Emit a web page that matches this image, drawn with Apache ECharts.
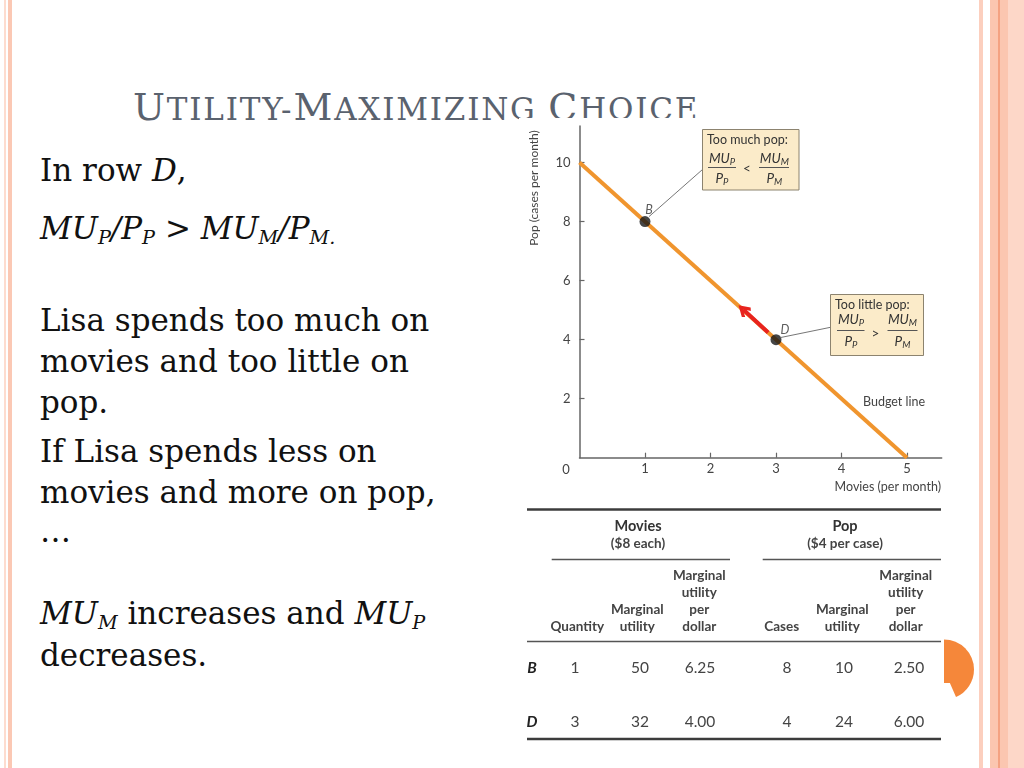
<!DOCTYPE html>
<html><head><meta charset="utf-8">
<script src="https://cdn.jsdelivr.net/npm/echarts@6/dist/echarts.min.js"></script>
<style>
body{margin:0;background:#fff;}
#slide{position:relative;width:1024px;height:768px;overflow:hidden;background:#fff;}
.stripe{position:absolute;top:0;height:768px;}
.title{position:absolute;left:133px;top:88px;font-family:'DejaVu Serif';color:#5A626E;font-size:38px;line-height:38px;white-space:nowrap;letter-spacing:1.8px;}
.title .sc{font-size:31px;}
.ln{position:absolute;left:40px;font-family:'DejaVu Serif';font-size:31px;line-height:31px;height:31px;color:#111;white-space:nowrap;}
.ln sub{font-size:0.62em;vertical-align:-0.28em;line-height:0;}
#cover{position:absolute;left:519px;top:118px;width:426px;height:640px;background:#fff;}
#chart{position:absolute;left:0;top:0;width:1024px;height:768px;}
</style></head>
<body>
<div id="slide">
  <div class="stripe" style="left:4px;width:2px;background:#FDDCCF"></div>
  <div class="stripe" style="left:8px;width:4px;background:#FBC8B4"></div>
  <div class="stripe" style="left:979px;width:4px;background:#FCCFBE"></div>
  <div class="stripe" style="left:990px;width:8px;background:#FBC6B0"></div>
  <div class="stripe" style="left:998px;width:1.5px;background:#F4A282"></div>
  <div class="stripe" style="left:999.5px;width:8px;background:#FBC6B0"></div>
  <div class="stripe" style="left:1007.5px;width:16.5px;background:#FDD7C8"></div>

  <div class="title">U<span class="sc">TILITY-</span>M<span class="sc">AXIMIZING </span>C<span class="sc">HOICE</span></div>

  <div class="ln" style="top:155px">In row <i>D</i>,</div>
  <div class="ln" style="top:213px"><i>MU<sub>P</sub>/P<sub>P</sub>&nbsp;&gt; MU<sub>M</sub>/P<sub>M.</sub></i></div>
  <div class="ln" style="top:305px">Lisa spends too much on</div>
  <div class="ln" style="top:346px">movies and too little on</div>
  <div class="ln" style="top:387px">pop.</div>
  <div class="ln" style="top:436px">If Lisa spends less on</div>
  <div class="ln" style="top:477px">movies and more on pop,</div>
  <div class="ln" style="top:516px">…</div>
  <div class="ln" style="top:598px"><i>MU<sub>M</sub></i> increases and <i>MU<sub>P</sub></i></div>
  <div class="ln" style="top:640px">decreases.</div>

  <div id="cover"></div>
  <div id="chart"></div>
</div>
<script>
// ---- chart data ----
const budgetMovies = [0, 5];
const budgetPop = [10, 0];
const pointNames = ['B', 'D'];
const pointMovies = [1, 3];
const pointPop = [8, 4];
const arrowMovies = [2.88, 2.5];
const arrowPop = [4.24, 5.02];
const xTickValues = [1, 2, 3, 4, 5];
const yTickValues = [2, 4, 6, 8, 10];

// ---- table data ----
const rowLabels = ['B', 'D'];
const moviesQuantity = ['1', '3'];
const moviesMU = ['50', '32'];
const moviesMUPerDollar = ['6.25', '4.00'];
const popCases = ['8', '4'];
const popMU = ['10', '24'];
const popMUPerDollar = ['2.50', '6.00'];
const groupTitles = ['Movies', 'Pop'];
const groupSubtitles = ['($8 each)', '($4 per case)'];
const columnHeaders = ['Quantity', 'Marginal\nutility', 'Marginal\nutility\nper\ndollar',
                       'Cases', 'Marginal\nutility', 'Marginal\nutility\nper\ndollar'];

const FONT = 'Lato';
const TXT = '#3a3a3a';
const chart = echarts.init(document.getElementById('chart'), null, {renderer: 'canvas', width: 1024, height: 768});

const labelOffsets = {B: [4, 2], D: [9, 4]};

const option = {
  animation: false,
  backgroundColor: 'transparent',
  grid: {left: 579.5, top: 126, right: 82.3, bottom: 310.3, containLabel: false},
  xAxis: {
    type: 'value', min: 0, max: 5.53, interval: 1,
    axisLine: {lineStyle: {color: '#666', width: 1.5}},
    axisTick: {inside: true, length: 5, customValues: xTickValues, lineStyle: {color: '#666', width: 1.2}},
    axisLabel: {customValues: xTickValues, color: '#444', fontFamily: FONT, fontSize: 13, margin: 5},
    splitLine: {show: false}
  },
  yAxis: {
    type: 'value', min: 0, max: 11.24, interval: 2,
    axisLine: {show: true, lineStyle: {color: '#666', width: 1.5}},
    axisTick: {show: true, inside: true, length: 5, customValues: yTickValues, lineStyle: {color: '#666', width: 1.2}},
    axisLabel: {customValues: yTickValues, color: '#444', fontFamily: FONT, fontSize: 13, margin: 9},
    splitLine: {show: false}
  },
  series: [
    {
      type: 'line', silent: true, showSymbol: false, z: 2,
      data: budgetMovies.map((m, i) => [m, budgetPop[i]]),
      lineStyle: {color: '#F0952E', width: 4}
    },
    {
      type: 'lines', coordinateSystem: 'cartesian2d', silent: true, z: 3,
      data: [{coords: arrowMovies.map((m, i) => [m, arrowPop[i]])}],
      symbol: ['none', 'path://M5,0 L10,7 L8.2,8.6 L5,4 L1.8,8.6 L0,7 Z'],
      symbolSize: [16, 13],
      lineStyle: {color: '#E8231E', width: 4, opacity: 1}
    },
    {
      type: 'scatter', silent: true, z: 4, symbolSize: 11,
      itemStyle: {color: '#161616'},
      data: pointNames.map((n, i) => ({name: n, value: [pointMovies[i], pointPop[i]],
        label: {offset: labelOffsets[n]}})),
      label: {show: true, formatter: '{b}', position: 'top', distance: 2,
              fontStyle: 'italic', fontFamily: FONT, fontSize: 12.5, color: '#333'}
    }
  ]
};
chart.setOption(option);

function txt(x, y, text, st) {
  const s = Object.assign({text: text, fill: TXT, fontFamily: FONT, fontSize: 12,
    align: 'center', verticalAlign: 'middle', textAlign: 'center', textVerticalAlign: 'middle'}, st || {});
  if (st && st.align) s.textAlign = st.align;
  if (st && st.verticalAlign) s.textVerticalAlign = st.verticalAlign;
  return {type: 'text', x: x, y: y, z: 10, style: s};
}
function hline(x1, x2, y, w, c) {
  return {type: 'line', z: 10, shape: {x1: x1, y1: y, x2: x2, y2: y}, style: {stroke: c || '#444', lineWidth: w || 1}};
}
const fracRich = {
  m: {fontStyle: 'italic', fontSize: 13.5, fontFamily: FONT, fill: '#333', color: '#333'},
  s: {fontStyle: 'italic', fontSize: 9.5, fontFamily: FONT, fill: '#333', color: '#333', padding: [6, 0, 0, 0]}
};
function fraction(cx, numY, lineY, denY, x1, x2, sub) {
  return [
    txt(cx, numY, '{m|MU}{s|' + sub[0] + '}', {rich: fracRich}),
    hline(x1, x2, lineY, 1, '#555'),
    txt(cx, denY, '{m|P}{s|' + sub[1] + '}', {rich: fracRich})
  ];
}

const g = [];
// annotation boxes
g.push({type: 'rect', z: 9, shape: {x: 702.5, y: 129.5, width: 96.5, height: 60.5},
        style: {fill: '#FBEBC9', stroke: '#8C836F', lineWidth: 1}});
g.push(txt(707, 140, 'Too much pop:', {align: 'left', fontSize: 12.5, fill: '#333'}));
g.push(...fraction(722, 158.5, 167.5, 178.5, 708, 736, ['P', 'P']));
g.push(txt(747, 169, '<', {fontSize: 13.5, fill: '#333'}));
g.push(...fraction(774.3, 158.5, 167.5, 178.5, 759, 789, ['M', 'M']));

g.push({type: 'rect', z: 9, shape: {x: 830.5, y: 294.5, width: 93, height: 61},
        style: {fill: '#FBEBC9', stroke: '#8C836F', lineWidth: 1}});
g.push(txt(835, 305, 'Too little pop:', {align: 'left', fontSize: 12.5, fill: '#333'}));
g.push(...fraction(851, 320, 330.5, 342, 837, 864.5, ['P', 'P']));
g.push(txt(875.3, 334, '>', {fontSize: 13.5, fill: '#333'}));
g.push(...fraction(902.5, 320, 330.5, 342, 887.5, 917.5, ['M', 'M']));

// leader lines from points to boxes
const pB = chart.convertToPixel({gridIndex: 0}, [pointMovies[0], pointPop[0]]);
const pD = chart.convertToPixel({gridIndex: 0}, [pointMovies[1], pointPop[1]]);
g.push({type: 'line', z: 8, shape: {x1: pB[0] + 4, y1: pB[1] - 5, x2: 702.5, y2: 169.5}, style: {stroke: '#666', lineWidth: 0.9}});
g.push({type: 'line', z: 8, shape: {x1: pD[0] + 4, y1: pD[1] - 2, x2: 830.5, y2: 327.3}, style: {stroke: '#666', lineWidth: 0.9}});

// axis names and labels
g.push(txt(863, 402, 'Budget line', {align: 'left', fontSize: 12.5, fill: '#444'}));
g.push(txt(941, 487, 'Movies (per month)', {align: 'right', fontSize: 12.5, fill: '#444'}));
g.push({type: 'text', x: 534, y: 188, rotation: Math.PI / 2, z: 10,
        style: {text: 'Pop (cases per month)', fill: '#444', fontFamily: FONT, fontSize: 12,
                align: 'center', verticalAlign: 'middle', textAlign: 'center', textVerticalAlign: 'middle'}});
g.push(txt(566, 470, '0', {fontSize: 13, fill: '#444'}));

// table
const tableLeft = 527, tableRight = 941;
g.push(hline(tableLeft, tableRight, 509.5, 2.5, '#3c3c3c'));
const groupCx = [638, 845];
const groupLine = [[551.7, 730], [762.7, 941]];
groupTitles.forEach((t, i) => {
  g.push(txt(groupCx[i], 526.7, t, {fontWeight: 'bold', fontSize: 14.5, fill: '#333'}));
  g.push(txt(groupCx[i], 544, groupSubtitles[i], {fontWeight: 'bold', fontSize: 13.5, fill: '#444'}));
  g.push(hline(groupLine[i][0], groupLine[i][1], 559.5, 1.4, '#555'));
});
const headerCx = [577.3, 637.3, 699.3, 781.7, 842.3, 905.7];
columnHeaders.forEach((h, i) => {
  g.push(txt(headerCx[i], 634.5, h, {fontWeight: 'bold', fontSize: 13.5, fill: '#444', lineHeight: 16.7, verticalAlign: 'bottom'}));
});
g.push(hline(tableLeft, tableRight, 641.5, 1.4, '#555'));
const valueCx = [575, 640, 700, 787, 844, 909];
const rowY = [667.7, 722.3];
const cols = [moviesQuantity, moviesMU, moviesMUPerDollar, popCases, popMU, popMUPerDollar];
rowLabels.forEach((r, ri) => {
  g.push(txt(532, rowY[ri], r, {fontWeight: 'bold', fontStyle: 'italic', fontSize: 15.5, fill: '#222'}));
  cols.forEach((c, ci) => g.push(txt(valueCx[ci], rowY[ri], c[ri], {fontSize: 15.5, fill: '#444'})));
});
g.push(hline(tableLeft, tableRight, 739, 2.5, '#3c3c3c'));

// slide decoration (orange half-disc)
g.push({type: 'sector', z: 11, shape: {cx: 944, cy: 669.5, r: 30, r0: 0,
        startAngle: -Math.PI / 2, endAngle: 1.159, clockwise: true}, style: {fill: '#F5873A'}});
g.push({type: 'rect', z: 11, shape: {x: 944, y: 669.5, width: 12, height: 13.5}, style: {fill: '#F5873A'}});

chart.setOption({graphic: {elements: g}});
</script>
</body></html>
